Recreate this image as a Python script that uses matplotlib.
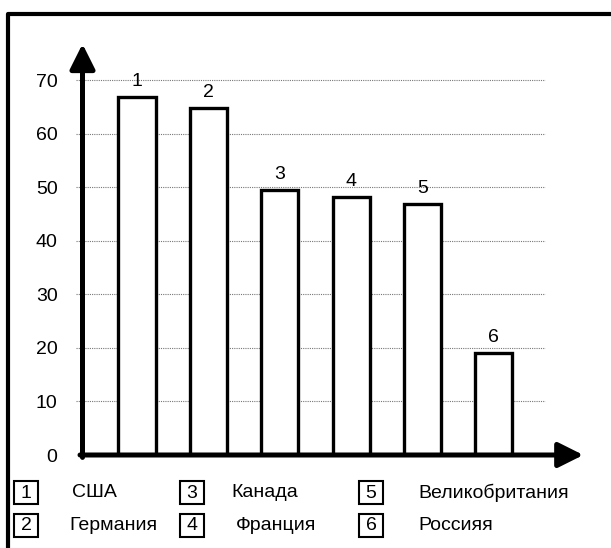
import matplotlib
matplotlib.use("Agg")
import matplotlib.pyplot as plt
from matplotlib.patches import Rectangle

plt.rcParams['font.family'] = ['Liberation Sans', 'DejaVu Sans']
plt.rcParams['font.size'] = 14

# data
numbers = [1, 2, 3, 4, 5, 6]
countries = ["США", "Германия", "Канада", "Франция", "Великобритания", "Россияя"]
values = [66.9, 64.8, 49.5, 48.2, 46.9, 19.1]
yticks = [0, 10, 20, 30, 40, 50, 60, 70]

W, H = 611, 548
fig = plt.figure(figsize=(W / 100, H / 100), dpi=100)

# main chart area (axes span from y axis to arrow tips)
ax = fig.add_axes([82.5 / W, 93 / H, 498 / W, 410 / H])
x0, x1 = 0.237, 7.214
y1 = 76.6
ax.set_xlim(x0, x1)
ax.set_ylim(0, y1)
for s in ax.spines.values():
    s.set_visible(False)
ax.set_xticks([])
ax.set_yticks(yticks)
ax.tick_params(axis='y', length=0, pad=18)

# dotted grid
ax.hlines(yticks[1:], 0.146, 6.714, colors='#777777', linestyles=(0, (1, 1)),
          linewidth=0.8, zorder=1, clip_on=False)

ax.bar(numbers, values, width=0.52, color='white', edgecolor='black',
       linewidth=2.4, zorder=2)
for n, v in zip(numbers, values):
    ax.annotate(str(n), (n, v), xytext=(0, 8), textcoords='offset points',
                ha='center', va='baseline')

# axis arrows
arrow = dict(arrowstyle='-|>', lw=3.6, color='black', mutation_scale=38,
             shrinkA=0, shrinkB=0)
ax.annotate('', xy=(x0, y1 + 0.2), xytext=(x0, -0.45), arrowprops=arrow,
            annotation_clip=False, zorder=4)
ax.annotate('', xy=(x1 + 0.04, 0), xytext=(x0 - 0.035, 0), arrowprops=arrow,
            annotation_clip=False, zorder=4)

# overlay in pixel coords for frame and legend
ov = fig.add_axes([0, 0, 1, 1], zorder=-1)
ov.set_xlim(0, W)
ov.set_ylim(H, 0)
ov.axis('off')
ov.plot([8, 8, W], [H, 14, 14], color='black', lw=3, solid_capstyle='projecting')

box_x = [14, 14, 180, 180, 359, 359]
box_y = [481, 514, 481, 514, 481, 514]
text_x = [72, 69, 231, 236, 418, 418]
for n, name, bx, by, tx in zip(numbers, countries, box_x, box_y, text_x):
    ov.add_patch(Rectangle((bx, by), 24, 23, fill=False, edgecolor='black', lw=1.5))
    ov.text(bx + 12, by + 12, str(n), ha='center', va='center')
    ov.text(tx, by + 11.5, name, ha='left', va='center')

fig.savefig("out.png", dpi=100)
